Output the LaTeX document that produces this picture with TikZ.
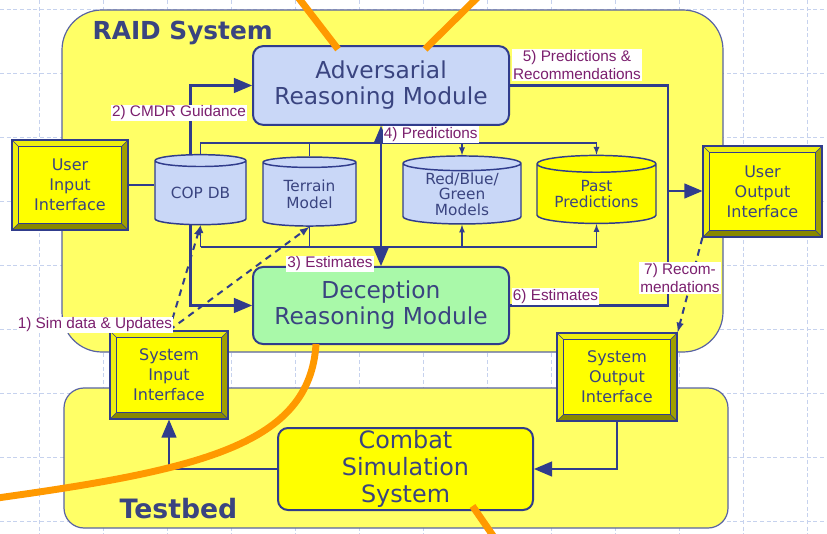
\documentclass[tikz,border=0pt]{standalone}
\usepackage{fontspec}
\setmainfont{DejaVu Sans}
\newfontfamily\labelfont{Liberation Sans}
\usetikzlibrary{positioning,calc,arrows,shapes.geometric}
\definecolor{linecol}{HTML}{303C8C}
\definecolor{txtcol}{HTML}{3A4480}
\definecolor{lblcol}{HTML}{7B1F6E}
\definecolor{raidfill}{HTML}{FFFF66}
\definecolor{boxyellow}{HTML}{FFFF00}
\definecolor{bevellight}{HTML}{EEEE10}
\definecolor{beveldark}{HTML}{A0A000}
\definecolor{advfill}{HTML}{C9D7F7}
\definecolor{decfill}{HTML}{A9F9A9}
\definecolor{gridcol}{HTML}{C6D2EE}
\definecolor{ptrorange}{HTML}{FF9900}

\begin{document}
\begin{tikzpicture}[
  x=0.75pt, y=-0.75pt,
  every node/.style={text=txtcol},
  region/.style={draw=linecol!80, line width=0.9pt, fill=raidfill},
  title/.style={anchor=base west, text=txtcol, font=\bfseries\fontsize{18.6}{20}\selectfont},
  module/.style={draw=linecol, line width=1.5pt, rounded corners=7.5pt, align=center,
    inner sep=0pt, minimum width=192pt, minimum height=59pt,
    font=\fontsize{17.5}{19.5}\selectfont},
  bevel-box/.style={draw=linecol, line width=0.9pt, fill=boxyellow, align=center, inner sep=0pt,
    font=\fontsize{12}{15}\selectfont,
    path picture={
      \fill[bevellight] (path picture bounding box.north west) -- (path picture bounding box.north east)
        -- ($(path picture bounding box.north east)+(-5pt,-5pt)$) -- ($(path picture bounding box.north west)+(5pt,-5pt)$) -- cycle;
      \fill[bevellight] (path picture bounding box.north west) -- (path picture bounding box.south west)
        -- ($(path picture bounding box.south west)+(5pt,5pt)$) -- ($(path picture bounding box.north west)+(5pt,-5pt)$) -- cycle;
      \fill[beveldark] (path picture bounding box.north east) -- (path picture bounding box.south east)
        -- ($(path picture bounding box.south east)+(-5pt,5pt)$) -- ($(path picture bounding box.north east)+(-5pt,-5pt)$) -- cycle;
      \fill[beveldark!85!black] (path picture bounding box.south west) -- (path picture bounding box.south east)
        -- ($(path picture bounding box.south east)+(-5pt,5pt)$) -- ($(path picture bounding box.south west)+(5pt,5pt)$) -- cycle;
      \draw[linecol, line width=0.6pt] ($(path picture bounding box.north west)+(5pt,-5pt)$) rectangle ($(path picture bounding box.south east)+(-5pt,5pt)$);
      \draw[linecol, line width=0.4pt] (path picture bounding box.south west) -- ++(5pt,5pt)
        (path picture bounding box.south east) -- ++(-5pt,5pt)
        (path picture bounding box.north east) -- ++(-5pt,-5pt)
        (path picture bounding box.north west) -- ++(5pt,-5pt);
    }},
  db/.style={cylinder, shape border rotate=90, aspect=0.2, draw=linecol, line width=1.1pt,
    fill=advfill, align=center, inner sep=0pt, font=\fontsize{11.5}{12.5}\selectfont},
  thick-link/.style={draw=linecol, line width=2.2pt},
  thin-link/.style={draw=linecol, line width=1pt},
  dash-link/.style={draw=linecol, line width=1.5pt, dash pattern=on 5pt off 4pt},
  flow-label/.style={fill=white, text=lblcol, inner sep=1pt, align=center,
    font=\labelfont\fontsize{11.5}{13.5}\selectfont},
  grid-line/.style={draw=gridcol, line width=0.6pt, dash pattern=on 3pt off 2pt},
  pointer/.style={draw=ptrorange, line width=5.2pt},
  ]

  \path[use as bounding box, clip] (0,0) rectangle (827,534);
  \fill[white] (0,0) rectangle (827,534);
  \foreach \gx in {39,103,...,807} \draw[grid-line] (\gx,0) -- (\gx,534);
  \foreach \gy in {9,73,...,521} \draw[grid-line] (0,\gy) -- (827,\gy);

  \node[region, rounded corners=30pt, minimum width=495.75pt, minimum height=256.5pt] (raid-box) at (392.5,181) {};
  \node[region, rounded corners=15pt, minimum width=498pt, minimum height=105pt] (testbed-box) at (396,458) {};
  \node[title] (raid-title) at (88,40) {RAID System};
  \node[title, font=\bfseries\fontsize{20}{22}\selectfont] (testbed-title) at (115,518) {Testbed};

  \node[module, fill=advfill] (adv-module) at (381,85.5) {Adversarial\\Reasoning Module};
  \node[module, fill=decfill, minimum height=57.75pt] (dec-module) at (381,305.5) {Deception\\Reasoning Module};
  \node[module, fill=boxyellow, minimum width=191.25pt, minimum height=61.5pt,
    font=\fontsize{17.9}{20}\selectfont] (combat-sim) at (405.5,469) {Combat\\Simulation\\System};

  \node[bevel-box, minimum width=87pt, minimum height=67.5pt] (user-input) at (70,185) {User\\Input\\Interface};
  \node[bevel-box, minimum width=89.25pt, minimum height=68.25pt] (user-output) at (762.5,191.5) {User\\Output\\Interface};
  \node[bevel-box, minimum width=88.5pt, minimum height=66pt] (sys-input) at (169,375) {System\\Input\\Interface};
  \node[bevel-box, minimum width=90pt, minimum height=66pt] (sys-output) at (617,377) {System\\Output\\Interface};

  \node[db, minimum width=68.25pt, minimum height=52.5pt] (cop-db) at (200.5,193) {COP DB};
  \node[db, minimum width=69.75pt, minimum height=51.75pt] (terrain-db) at (309.5,194.5) {Terrain\\Model};
  \node[db, minimum width=88.5pt, minimum height=51pt, font=\fontsize{11.5}{11.6}\selectfont] (rbg-db) at (462,194) {Red/Blue/\\Green\\Models};
  \node[db, fill=boxyellow, minimum width=89.25pt, minimum height=51pt] (past-db) at (596.5,194) {Past\\Predictions};

  \coordinate (top-bus) at (0,143);
  \coordinate (low-bus) at (0,247);
  \coordinate (out-merge) at (668,191);

  \draw[thin-link] (cop-db.north) |- (top-bus -| past-db.north);
  \draw[thin-link] (terrain-db.north) -- (terrain-db.north |- top-bus);
  \draw[thin-link,-latex] (top-bus -| rbg-db.north) -- (rbg-db.north);
  \draw[thin-link,-latex] (top-bus -| past-db.north) -- (past-db.north);
  \draw[thin-link] (low-bus -| cop-db.south) -- (low-bus -| past-db.south);
  \draw[thin-link,-latex] (low-bus -| cop-db.south) -- (cop-db.south);
  \draw[thin-link] (terrain-db.south) -- (terrain-db.south |- low-bus);
  \draw[thin-link,-latex] (low-bus -| rbg-db.south) -- (rbg-db.south);
  \draw[thin-link,-latex] (low-bus -| past-db.south) -- (past-db.south);

  \draw[thick-link] (user-input.east) -- (user-input.east -| cop-db.west);
  \draw[thick-link,-triangle 45] ([xshift=-7.5pt]cop-db.north) |- (adv-module.west);
  \draw[thick-link,-triangle 45] ([xshift=-7.5pt]cop-db.south) |- (dec-module.west);
  \draw[thick-link,triangle 45-triangle 45] (adv-module.south) -- (dec-module.north);
  \draw[thick-link] (adv-module.east) -| (out-merge);
  \draw[thick-link] (dec-module.east) -| (out-merge);
  \draw[thick-link,-triangle 45] (out-merge) -- (out-merge -| user-output.west);
  \draw[thick-link,-triangle 45] (sys-output.south) |- (combat-sim.east);
  \draw[thick-link,-triangle 45] (combat-sim.west) -| (sys-input.south);

  \draw[dash-link,-latex] (user-output.south west) -- (sys-output.north east);
  \draw[dash-link,-latex] (sys-input.north) -- (cop-db.south);
  \draw[dash-link,-latex] (sys-input.north) -- (terrain-db.south);

  \node[flow-label] (cmdr-label) at (179,113) {2) CMDR Guidance};
  \node[flow-label, below right=0pt and 1pt of adv-module.south] (pred4-label) {4) Predictions};
  \node[flow-label] (est3-label) at (330,264) {3) Estimates};
  \node[flow-label] (pred5-label) at (577,65) {5) Predictions \&\\Recommendations};
  \node[flow-label, above right=0pt and 1pt of dec-module.east] (est6-label) {6) Estimates};
  \node[flow-label] (rec7-label) at (680,278) {7) Recom-\\mendations};
  \node[flow-label] (sim1-label) at (95,325) {1) Sim data \& Updates};

  \coordinate (ptr-a) at (294,-8);
  \coordinate (ptr-b) at (483,-8);
  \coordinate (ptr-c) at (-10,499);
  \coordinate (ptr-d) at (496,540);
  \draw[pointer] (ptr-a) -- ($(adv-module.north)+(-43,4)$);
  \draw[pointer] (ptr-b) -- ($(adv-module.north)+(44,4)$);
  \draw[pointer] ($(dec-module.south)+(-65,-1)$) .. controls (310,445) and (200,470) .. (ptr-c);
  \draw[pointer] ($(combat-sim.south)+(67,-5)$) -- (ptr-d);

\end{tikzpicture}
\end{document}
